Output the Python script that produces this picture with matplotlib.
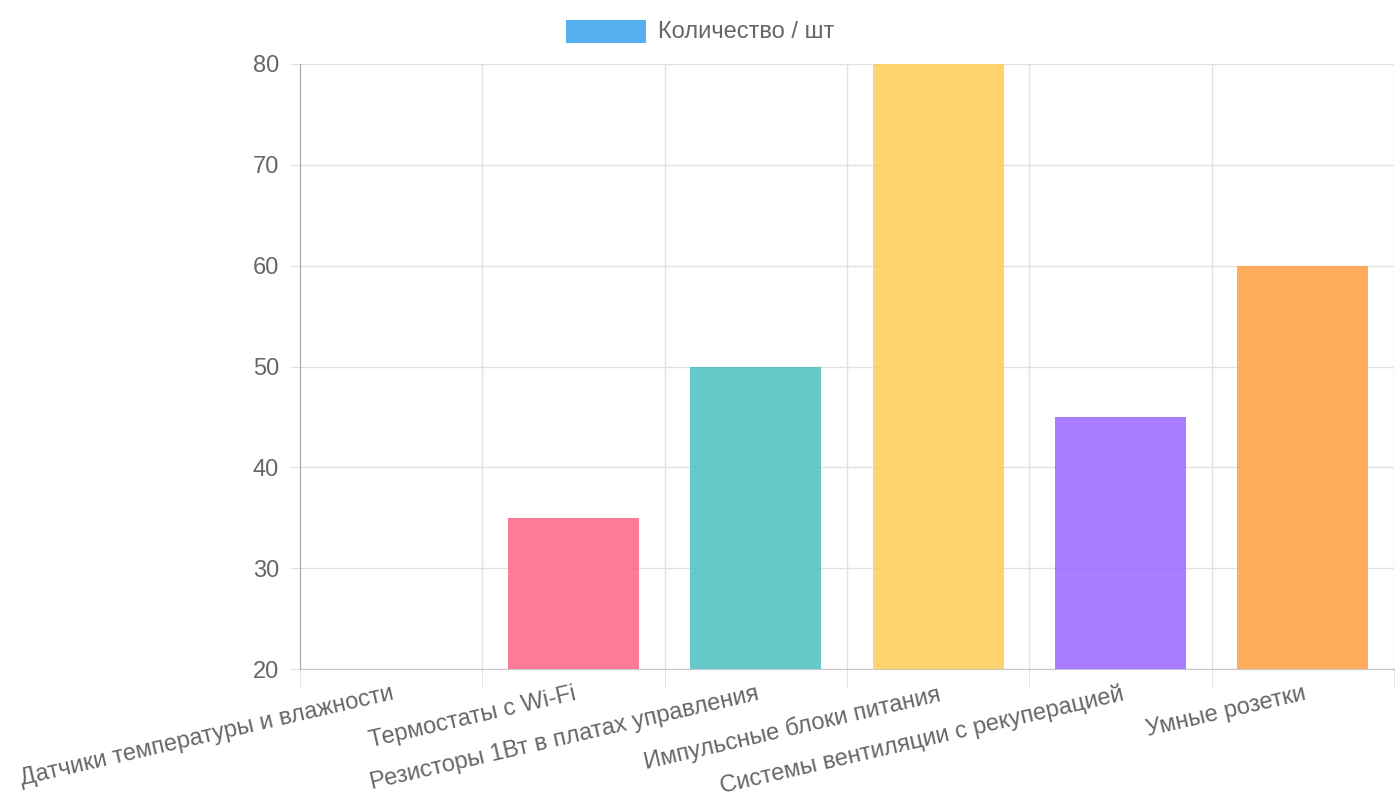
import numpy as np
import matplotlib.pyplot as plt
from matplotlib.patches import Rectangle

plt.rcParams['font.family'] = ['Liberation Sans', 'DejaVu Sans']

# Data
categories = ['Датчики температуры и влажности', 'Термостаты с Wi-Fi',
              'Резисторы 1Вт в платах управления', 'Импульсные блоки питания',
              'Системы вентиляции с рекуперацией', 'Умные розетки']
values = [20, 35, 50, 80, 45, 60]
colors = ['#36a2eb', '#ff6384', '#4bc0c0', '#ffcd56', '#9966ff', '#ff9f40']
series_name = 'Количество / шт'
y_ticks = [20, 30, 40, 50, 60, 70, 80]

text_col = '#666666'
grid_col = '#e1e1e1'
fs = 17

fig = plt.figure(figsize=(14, 8), dpi=100)
ax = fig.add_axes([300 / 1400, 1 - 669 / 800, 1094 / 1400, 605 / 800])

x = np.arange(len(categories))
ax.bar(x, values, width=0.72, color=colors, alpha=0.85, zorder=3)

ax.set_xlim(-0.5, len(categories) - 0.5)
ax.set_ylim(20, 80)

# y axis
ax.set_yticks(y_ticks)
ax.set_yticklabels([str(t) for t in y_ticks])
ax.tick_params(axis='y', length=7, color=grid_col, labelsize=fs,
               labelcolor=text_col, pad=8)
ax.grid(axis='y', color=grid_col, linewidth=1, zorder=0)

# x axis: gridlines between categories, labels at centers
ax.set_xticks(np.arange(-0.5, len(categories)), minor=True)
ax.set_xticks(x)
ax.set_xticklabels(categories, rotation=13, ha='right', va='top',
                   rotation_mode='anchor')
ax.tick_params(axis='x', which='major', length=0, labelsize=fs,
               labelcolor=text_col, pad=10)
ax.tick_params(axis='x', which='minor', length=14, color=grid_col)
ax.grid(axis='x', which='minor', color=grid_col, linewidth=1, zorder=0)

for s in ['top', 'right']:
    ax.spines[s].set_visible(False)
ax.spines['left'].set_color('#a8a8a8')
ax.spines['bottom'].set_color('#c8c8c8')
ax.spines['left'].set_zorder(4)

# legend
fig.patches.append(Rectangle((566 / 1400, 1 - 43 / 800), 80 / 1400, 23 / 800,
                             transform=fig.transFigure, facecolor=colors[0],
                             alpha=0.85, edgecolor='none'))
fig.text(658 / 1400, 1 - 32 / 800, series_name, fontsize=fs, color=text_col,
         va='center', ha='left')

fig.savefig('out.png', dpi=100)
